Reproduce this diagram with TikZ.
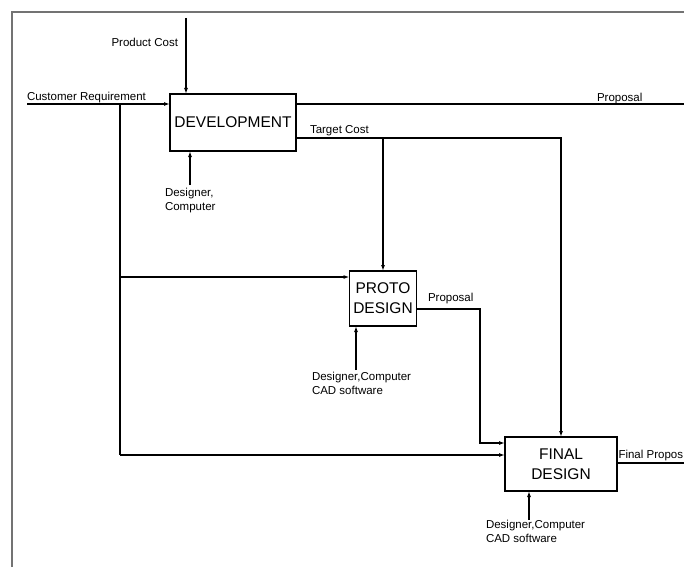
\documentclass[tikz,border=0pt]{standalone}
\usepackage{fontspec}
\setmainfont{Liberation Sans}
\usetikzlibrary{arrows.meta}
\begin{document}
\begin{tikzpicture}[x=1pt,y=-1pt,
  every node/.style={inner sep=0pt, outer sep=0pt},
  process/.style={draw, line width=1.3pt, align=center,
    font=\fontsize{15.5}{20}\selectfont},
  lbl/.style={font=\fontsize{11.5}{14}\selectfont, align=left},
  flow/.style={line width=1.2pt},
  arr/.style={flow, -{Latex[length=6pt,width=4pt]}}]
\useasboundingbox (0,0) rectangle (684,567);
% page frame
\draw[line width=1.6pt, black!55] (12,567) -- (12,12) -- (690,12);

% activities
\node[process, minimum width=126pt, minimum height=57pt] (dev) at (233,122.5) {DEVELOPMENT};
\node[process, minimum width=67pt, minimum height=55pt] (proto) at (383,298.5) {PROTO\\DESIGN};
\node[process, minimum width=112pt, minimum height=54pt] (final) at (561,464) {FINAL\\DESIGN};

% ports on the activity boxes
\coordinate (devOut) at ([yshift=-10pt]dev.north east);
\coordinate (devTc) at ([yshift=13pt]dev.south east);
\coordinate (protoIn) at ([yshift=-6pt]proto.north west);
\coordinate (protoOut) at ([yshift=17pt]proto.south east);
\coordinate (finalIn) at ([yshift=-6pt]final.north west);
\coordinate (finalOut) at ([yshift=-26pt]final.north east);

% free ends of the connectors
\coordinate (pc) at (186,18);
\coordinate (cr) at (27,104);
\coordinate (br) at (120,104);
\coordinate (brend) at (120,455);
\coordinate (propEnd) at (690,104);
\coordinate (pturn) at (480,309);
\coordinate (finEnd) at (690,463);
\coordinate (m1) at (190,185);
\coordinate (m2) at (356,370);
\coordinate (m3) at (529,520);

% inputs
\draw[arr] (pc) -- (pc |- dev.north);
\draw[arr] (cr) -- (dev.west |- cr);
\draw[flow] (br) -- (brend);
\draw[arr] (br |- protoIn) -- (protoIn);
\draw[arr] (brend) -- (final.west |- brend);

% outputs
\draw[flow] (devOut) -- (propEnd);
\draw[arr] (devTc) -| (final.north);
\draw[arr] (proto.north |- devTc) -- (proto.north);
\draw[arr] (protoOut) -- (pturn) |- (finalIn);
\draw[flow] (finalOut) -- (finEnd);

% mechanisms
\draw[arr] (m1) -- (m1 |- dev.south);
\draw[arr] (m2) -- (m2 |- proto.south);
\draw[arr] (m3) -- (m3 |- final.south);

% labels
\node[lbl, anchor=base east] (lpc) at (178,47) {Product Cost};
\node[lbl, anchor=base west] (lcr) at (27,100) {Customer Requirement};
\node[lbl, anchor=base west] (lprop) at (597,101) {Proposal};
\node[lbl, anchor=base west] (ltc) at (310,133) {Target Cost};
\node[lbl, anchor=base west] (lprop2) at (428,301) {Proposal};
\node[lbl, anchor=base west] (lfin) at (618.5,458) {Final Propos};
\node[lbl, anchor=north west] (lm1) at (165,188) {Designer,\\Computer};
\node[lbl, anchor=north west] (lm2) at (312,372) {Designer,Computer\\CAD software};
\node[lbl, anchor=north west] (lm3) at (486,520) {Designer,Computer\\CAD software};
\end{tikzpicture}
\end{document}
